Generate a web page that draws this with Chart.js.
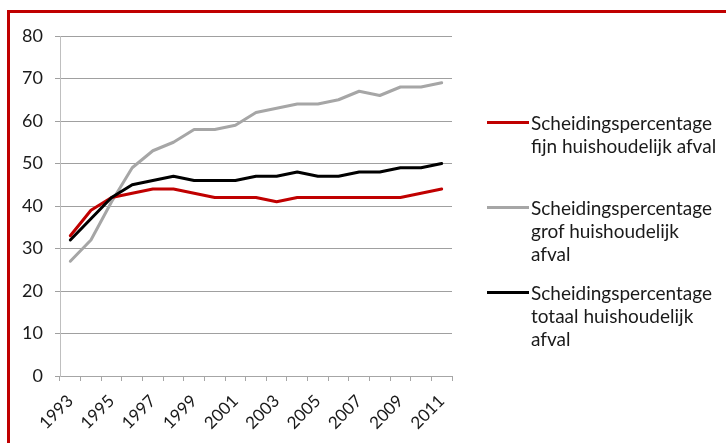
<!DOCTYPE html>
<html>
<head>
<meta charset="utf-8">
<script src="https://cdn.jsdelivr.net/npm/chart.js@4.4.0/dist/chart.umd.min.js"></script>
<style>
  html, body { margin: 0; padding: 0; background: #fff; overflow: hidden; }
  #wrap { position: relative; width: 726px; height: 443px; overflow: hidden; }
  #frame { position: absolute; left: 7px; top: 10px; width: 800px; height: 500px;
           border: 3px solid #C00000; box-sizing: border-box; }
  #c { position: absolute; left: 0; top: 0; }
  .leg { position: absolute; left: 487px; font-family: Lato, "Open Sans", sans-serif;
         font-size: 19px; line-height: 23px; color: #1a1a1a; }
  .leg .sw { position: absolute; left: 0; width: 42px; height: 3px; top: 10px; }
  .leg .tx { position: absolute; left: 44px; white-space: nowrap; }
</style>
</head>
<body>
<div id="wrap">
  <div id="frame"></div>
  <canvas id="c" width="726" height="443"></canvas>
  <div id="legend"></div>
</div>
<script>
const years = ["1993","1994","1995","1996","1997","1998","1999","2000","2001","2002","2003","2004","2005","2006","2007","2008","2009","2010","2011"];
const fijn   = [33,39,42,43,44,44,43,42,42,42,41,42,42,42,42,42,42,43,44];
const grof   = [27,32,41,49,53,55,58,58,59,62,63,64,64,65,67,66,68,68,69];
const totaal = [32,37,42,45,46,47,46,46,46,47,47,48,47,47,48,48,49,49,50];
const seriesNames = [
  ["Scheidingspercentage","fijn huishoudelijk afval"],
  ["Scheidingspercentage","grof huishoudelijk","afval"],
  ["Scheidingspercentage","totaal huishoudelijk","afval"]
];
const seriesColors = ["#C00000","#A6A6A6","#000000"];
const yTicks = [0,10,20,30,40,50,60,70,80];

const yFont = { family: "Lato, 'Open Sans', sans-serif", size: 18 };
const xFont = { family: "Lato, 'Open Sans', sans-serif", size: 17 };

new Chart(document.getElementById('c'), {
  type: 'line',
  data: {
    labels: years,
    datasets: [
      { label: seriesNames[0].join(' '), data: fijn, borderColor: seriesColors[0], order: 1 },
      { label: seriesNames[1].join(' '), data: grof, borderColor: seriesColors[1], order: 2 },
      { label: seriesNames[2].join(' '), data: totaal, borderColor: seriesColors[2], order: 0 }
    ].map(d => Object.assign(d, { borderWidth: 3, pointRadius: 0, tension: 0, fill: false,
                                  borderCapStyle: 'round', borderJoinStyle: 'round' }))
  },
  options: {
    responsive: false,
    animation: false,
    layout: { padding: { left: 0, top: 36, right: 726 - 452, bottom: 0 } },
    plugins: { legend: { display: false }, tooltip: { enabled: false } },
    scales: {
      x: {
        offset: true,
        grid: { offset: true, drawOnChartArea: false, drawTicks: true, tickLength: 5, color: '#A6A6A6' },
        border: { color: '#A6A6A6', width: 1 },
        ticks: {
          autoSkip: false, maxRotation: 45, minRotation: 45, padding: 10,
          color: '#1a1a1a', font: xFont,
          callback: function(v, i) { return i % 2 === 0 ? this.getLabelForValue(v) : ''; }
        },
        afterFit: s => { s.height = 443 - 376; }
      },
      y: {
        min: 0, max: 80,
        afterBuildTicks: s => { s.ticks = yTicks.map(v => ({ value: v })); },
        grid: { color: '#A0A0A0', tickLength: 5, drawTicks: true },
        border: { color: '#BFBFBF', width: 1 },
        ticks: { padding: 12, color: '#1a1a1a', font: yFont },
        afterFit: s => { s.width = 60; }
      }
    }
  }
});

// HTML legend (multi-line labels)
const legTops = [111, 196, 281];
const leg = document.getElementById('legend');
seriesNames.forEach((lines, i) => {
  const d = document.createElement('div');
  d.className = 'leg';
  d.style.top = legTops[i] + 'px';
  const sw = document.createElement('div');
  sw.className = 'sw';
  sw.style.background = seriesColors[i];
  const tx = document.createElement('div');
  tx.className = 'tx';
  tx.innerHTML = lines.join('<br>');
  d.appendChild(sw); d.appendChild(tx);
  leg.appendChild(d);
});
</script>
</body>
</html>
